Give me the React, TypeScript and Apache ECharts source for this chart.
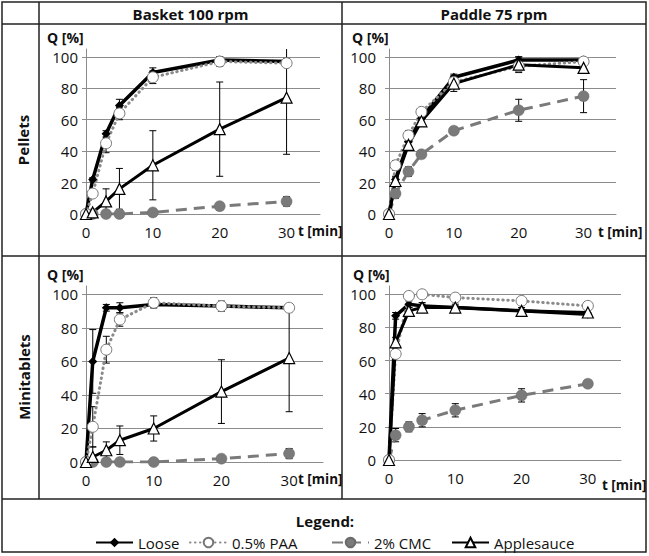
import React, { useEffect, useRef } from 'react';
import * as echarts from 'echarts';

const times = [0, 1, 3, 5, 10, 20, 30];
const seriesNames = ['Loose', '0.5% PAA', '2% CMC', 'Applesauce'];
const columnTitles = ['Basket 100 rpm', 'Paddle 75 rpm'];
const rowTitles = ['Pellets', 'Minitablets'];
const yTickValues = [0, 20, 40, 60, 80, 100];
const xTickValues = [0, 10, 20, 30];

// Pellets, Basket 100 rpm
const pelletsBasketLoose = [0, 22, 51, 69, 90, 98, 97];
const pelletsBasketLooseSD = [0, 1, 2, 4, 3, 2, 2];
const pelletsBasketPAA = [0, 13, 45, 64, 87, 97, 96];
const pelletsBasketPAASD = [0, 2, 6, 4, 4, 3, 2];
const pelletsBasketCMC = [0, 0, 0, 0, 1, 5, 8];
const pelletsBasketCMCSD = [0, 0, 0, 0, 1, 1, 3];
const pelletsBasketApple = [0, 1, 8, 16, 31, 54, 74];
const pelletsBasketAppleSD = [0, 1, 8, 13, 22, 30, 36];

// Pellets, Paddle 75 rpm
const pelletsPaddleLoose = [0, 22, 46, 61, 87, 98, 98];
const pelletsPaddleLooseSD = [0, 2, 3, 2, 2, 2, 1];
const pelletsPaddlePAA = [0, 31, 50, 65, 84, 94, 97];
const pelletsPaddlePAASD = [0, 3, 3, 2, 3, 3, 2];
const pelletsPaddleCMC = [0, 13, 27, 38, 53, 66, 75];
const pelletsPaddleCMCSD = [0, 3, 3, 2, 2, 7, 10.5];
const pelletsPaddleApple = [0, 21, 44, 59, 83, 95, 93];
const pelletsPaddleAppleSD = [0, 2, 3, 3, 5, 5, 3];

// Minitablets, Basket 100 rpm
const miniBasketLoose = [0, 60, 92, 92, 94, 93, 92];
const miniBasketLooseSD = [0, 19, 2, 3, 2, 2, 2];
const miniBasketPAA = [0, 21, 67, 85, 95, 93, 92];
const miniBasketPAASD = [0, 12, 8, 4, 3, 3, 2];
const miniBasketCMC = [0, 0, 0, 0, 0, 2, 5];
const miniBasketCMCSD = [0, 0, 0, 0, 0, 1, 3];
const miniBasketApple = [0, 3, 7, 13, 20, 42, 62];
const miniBasketAppleSD = [0, 6, 5, 8.5, 7.5, 19, 32];

// Minitablets, Paddle 75 rpm
const miniPaddleLoose = [0, 87, 94, 93, 92, 90, 88];
const miniPaddleLooseSD = [0, 2, 2, 2, 1, 1, 1];
const miniPaddlePAA = [0, 64, 99, 100, 98, 96, 93];
const miniPaddlePAASD = [0, 2, 1, 1, 1, 1, 1];
const miniPaddleCMC = [0, 15, 20, 24, 30, 39, 46];
const miniPaddleCMCSD = [0, 4, 3, 4, 4, 4, 2];
const miniPaddleApple = [0, 71, 90, 92, 92, 90, 89];
const miniPaddleAppleSD = [0, 3, 2, 2, 2, 2, 2];

const panels = [
  { values: [pelletsBasketLoose, pelletsBasketPAA, pelletsBasketCMC, pelletsBasketApple],
    sds: [pelletsBasketLooseSD, pelletsBasketPAASD, pelletsBasketCMCSD, pelletsBasketAppleSD] },
  { values: [pelletsPaddleLoose, pelletsPaddlePAA, pelletsPaddleCMC, pelletsPaddleApple],
    sds: [pelletsPaddleLooseSD, pelletsPaddlePAASD, pelletsPaddleCMCSD, pelletsPaddleAppleSD] },
  { values: [miniBasketLoose, miniBasketPAA, miniBasketCMC, miniBasketApple],
    sds: [miniBasketLooseSD, miniBasketPAASD, miniBasketCMCSD, miniBasketAppleSD] },
  { values: [miniPaddleLoose, miniPaddlePAA, miniPaddleCMC, miniPaddleApple],
    sds: [miniPaddleLooseSD, miniPaddlePAASD, miniPaddleCMCSD, miniPaddleAppleSD] },
];

const FONT = 'Open Sans';

const grids = [
  { left: 86, top: 49, width: 234, height: 165 },
  { left: 389, top: 49, width: 227, height: 165 },
  { left: 86, top: 286, width: 237, height: 176 },
  { left: 389, top: 286, width: 232, height: 174 },
];
const yLabelMargins = [8, 13, 8, 13];

const seriesStyles = [
  { // Loose
    lineStyle: { color: '#000', width: 3.5, type: 'solid' },
    symbol: 'diamond', symbolSize: 9,
    itemStyle: { color: '#000', borderColor: '#000', borderWidth: 0 },
  },
  { // PAA
    lineStyle: { color: '#8a8a8a', width: 3, type: [0.5, 4.5], cap: 'round' },
    symbol: 'circle', symbolSize: 11,
    itemStyle: { color: '#fff', borderColor: '#777', borderWidth: 1 },
  },
  { // CMC
    lineStyle: { color: '#7a7a7a', width: 3, type: [11, 7] },
    symbol: 'circle', symbolSize: 11,
    itemStyle: { color: '#7a7a7a', borderColor: '#6a6a6a', borderWidth: 0.5 },
  },
  { // Applesauce
    lineStyle: { color: '#000', width: 3, type: 'solid' },
    symbol: 'triangle', symbolSize: 11,
    itemStyle: { color: '#fff', borderColor: '#000', borderWidth: 1.2 },
  },
];
const drawOrder = [2, 0, 1, 3];

function errorRenderItem(params: any, api: any) {
  const sd = api.value(2);
  if (!sd) return { type: 'group', children: [] };
  const x = api.value(0);
  const v = api.value(1);
  const hi = api.coord([x, v + sd]);
  const lo = api.coord([x, v - sd]);
  const w = 3.5;
  const style = { stroke: '#000', lineWidth: 1 };
  return {
    type: 'group',
    children: [
      { type: 'line', shape: { x1: hi[0], y1: hi[1], x2: lo[0], y2: lo[1] }, style },
      { type: 'line', shape: { x1: hi[0] - w, y1: hi[1], x2: hi[0] + w, y2: hi[1] }, style },
      { type: 'line', shape: { x1: lo[0] - w, y1: lo[1], x2: lo[0] + w, y2: lo[1] }, style },
    ],
  };
}

export default function App() {
  const ref = useRef<HTMLDivElement>(null);
  useEffect(() => {
    if (!ref.current) return;
    const chart = echarts.init(ref.current, undefined, { renderer: 'svg' });

    const xAxes = grids.map((_, i) => ({
      type: 'value', gridIndex: i, min: 0, max: 35, interval: 10,
      axisLine: { show: true, onZero: false, lineStyle: { color: '#8c8c8c', width: 1 } },
      axisTick: { show: false },
      splitLine: { show: false },
      axisLabel: { customValues: xTickValues, margin: 10, color: '#111', fontSize: 15, fontFamily: FONT },
    }));
    const yAxes = grids.map((_, i) => ({
      type: 'value', gridIndex: i, min: 0, max: 105, interval: 20,
      axisLine: { show: true, lineStyle: { color: '#8c8c8c', width: 1 } },
      axisTick: { show: true, length: 4, customValues: yTickValues, lineStyle: { color: '#8c8c8c' } },
      splitLine: { show: true, lineStyle: { color: '#8c8c8c', width: 1 } },
      axisLabel: { customValues: yTickValues, margin: yLabelMargins[i], color: '#111', fontSize: 15, fontFamily: FONT },
    }));

    const series: any[] = [];
    panels.forEach((p, i) => {
      drawOrder.forEach((s) => {
        series.push({
          type: 'custom', name: seriesNames[s] + ' SD', xAxisIndex: i, yAxisIndex: i,
          renderItem: errorRenderItem, clip: true, z: 1,
          data: times.map((t, k) => [t, p.values[s][k], p.sds[s][k]]),
        });
      });
    });
    panels.forEach((p, i) => {
      drawOrder.forEach((s) => {
        const st = seriesStyles[s];
        series.push({
          type: 'line', name: seriesNames[s], xAxisIndex: i, yAxisIndex: i, z: 2,
          data: times.map((t, k) => [t, p.values[s][k]]),
          symbol: st.symbol, symbolSize: st.symbolSize, showSymbol: true,
          lineStyle: st.lineStyle, itemStyle: st.itemStyle,
          emphasis: { disabled: true },
        });
      });
    });

    const legendLefts = [95, 189, 331, 451];
    const legends = seriesNames.map((n, i) => ({
      data: [n], left: legendLefts[i], top: 535, padding: 0,
      itemWidth: 37, itemHeight: 12, itemGap: 5,
      textStyle: { fontSize: 15, color: '#111', fontFamily: FONT },
      selectedMode: false,
    }));

    const border = { stroke: '#222', lineWidth: 1.5 };
    const titleStyle = (text: string, extra: any = {}) => ({
      text, fontSize: 15, fontWeight: 'bold', fill: '#111', fontFamily: FONT, ...extra,
    });
    const graphic: any[] = [
      { type: 'rect', shape: { x: 2, y: 2, width: 644, height: 550 }, style: { fill: 'none', ...border } },
      { type: 'line', shape: { x1: 39, y1: 2, x2: 39, y2: 499 }, style: border },
      { type: 'line', shape: { x1: 342, y1: 2, x2: 342, y2: 499 }, style: border },
      { type: 'line', shape: { x1: 2, y1: 24, x2: 646, y2: 24 }, style: border },
      { type: 'line', shape: { x1: 2, y1: 256, x2: 646, y2: 256 }, style: border },
      { type: 'line', shape: { x1: 2, y1: 499, x2: 646, y2: 499 }, style: border },
      { type: 'text', x: 190.5, y: 14, style: titleStyle(columnTitles[0], { align: 'center', verticalAlign: 'middle' }) },
      { type: 'text', x: 494, y: 14, style: titleStyle(columnTitles[1], { align: 'center', verticalAlign: 'middle' }) },
      { type: 'text', x: 23, y: 140, rotation: Math.PI / 2, style: titleStyle(rowTitles[0], { align: 'center', verticalAlign: 'middle' }) },
      { type: 'text', x: 24, y: 377, rotation: Math.PI / 2, style: titleStyle(rowTitles[1], { align: 'center', verticalAlign: 'middle' }) },
      { type: 'text', x: 325, y: 521, style: titleStyle('Legend:', { align: 'center', verticalAlign: 'middle' }) },
    ];
    const qPos = [[47, 37], [352, 37], [47, 274], [353, 274]];
    const tPos = [[298, 231], [598, 232], [298, 479], [602, 485]];
    qPos.forEach(([x, y]) => graphic.push({ type: 'text', x, y, style: titleStyle('Q [%]', { align: 'left', verticalAlign: 'middle', fontSize: 14 }) }));
    tPos.forEach(([x, y]) => graphic.push({ type: 'text', x, y, style: titleStyle('t [min]', { align: 'left', verticalAlign: 'middle', fontSize: 13.5 }) }));

    chart.setOption({
      animation: false,
      backgroundColor: '#fff',
      textStyle: { fontFamily: FONT },
      grid: grids,
      xAxis: xAxes,
      yAxis: yAxes,
      legend: legends,
      series,
      graphic,
    });
    return () => chart.dispose();
  }, []);
  return <div ref={ref} style={{ position: 'fixed', left: 0, top: 0, width: 649, height: 556, background: '#fff' }} />;
}
